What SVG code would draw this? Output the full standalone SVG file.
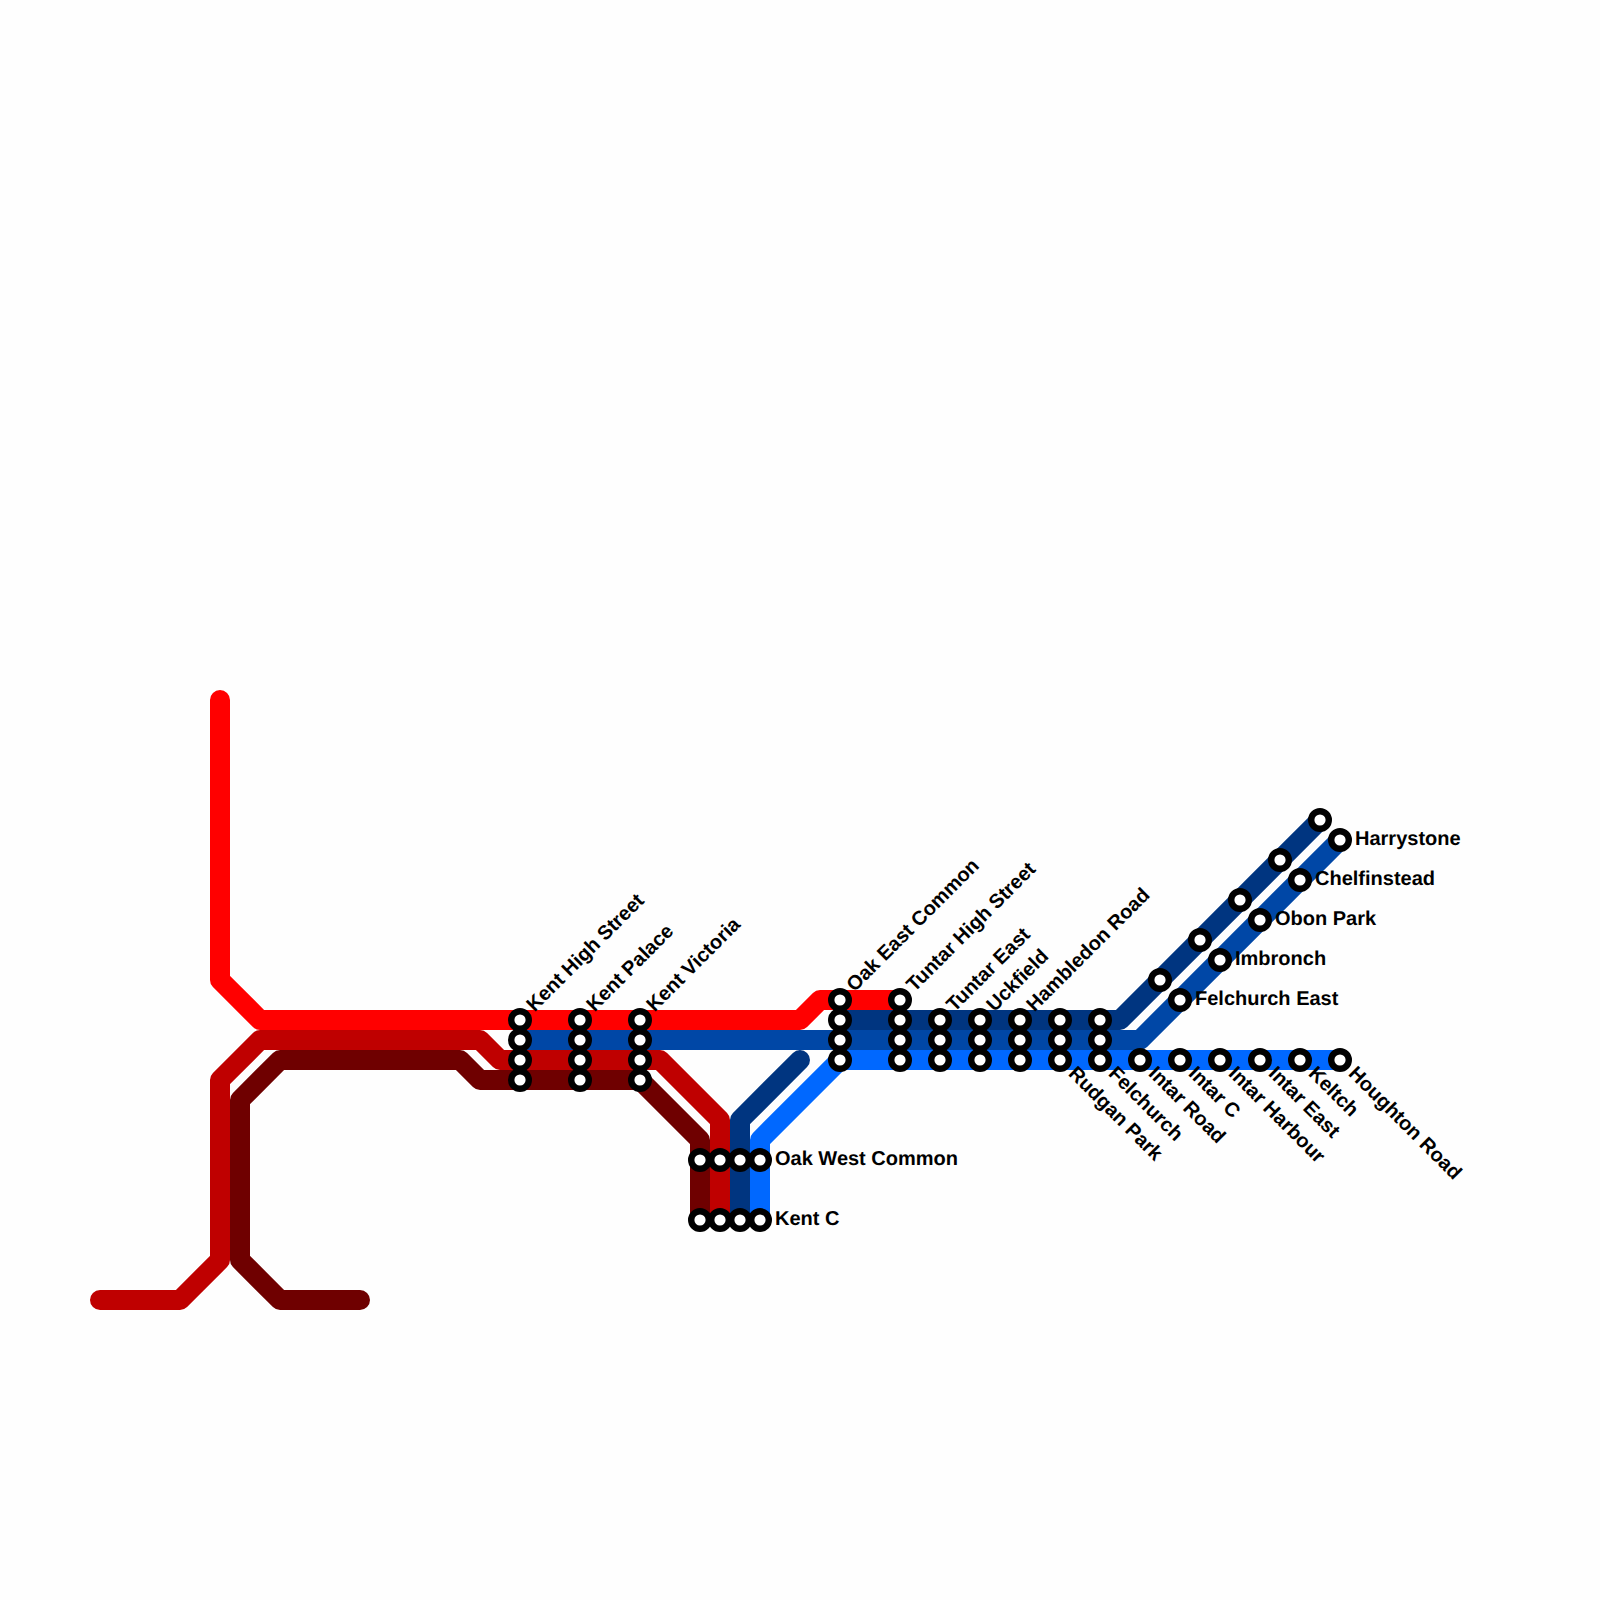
<svg xmlns="http://www.w3.org/2000/svg" width="1600" height="1600" viewBox="0 0 1600 1600">
<style>
.l{fill:none;stroke-width:20;stroke-linecap:round;stroke-linejoin:round}
.s{fill:#fff;stroke:#000;stroke-width:6.4}
text{font-family:"Liberation Sans",Arial,sans-serif;font-weight:bold;font-size:20px;fill:#000;text-rendering:geometricPrecision}
</style>
<rect width="1600" height="1600" fill="#fefefe"/>
<g id="connectors">
<path class="l" stroke="#ff0000" d="M220 700V980L260 1020H800L820 1000H900"/>
<path class="l" stroke="#bf0000" d="M100 1300H180L220 1260V1080L260 1040H480L500 1060H660L720 1120V1220"/>
<path class="l" stroke="#6f0000" d="M360 1300H280L240 1260V1100L280 1060H460L480 1080H640L700 1140V1220"/>
<path class="l" stroke="#003580" d="M800 1060L740 1120V1220"/>
<path class="l" stroke="#003580" d="M840 1020H1120L1320 820"/>
<path class="l" stroke="#0047a6" d="M520 1040H1140L1340 840"/>
<path class="l" stroke="#0068ff" d="M760 1220V1140L840 1060H1340"/>
</g>
<g id="kent-high-street"><circle class="s" cx="520" cy="1020" r="8.8"/><circle class="s" cx="520" cy="1040" r="8.8"/><circle class="s" cx="520" cy="1060" r="8.8"/><circle class="s" cx="520" cy="1080" r="8.8"/><text transform="translate(534.5 1012.5) rotate(-45)">Kent High Street</text></g>
<g id="kent-palace"><circle class="s" cx="580" cy="1020" r="8.8"/><circle class="s" cx="580" cy="1040" r="8.8"/><circle class="s" cx="580" cy="1060" r="8.8"/><circle class="s" cx="580" cy="1080" r="8.8"/><text transform="translate(594.5 1012.5) rotate(-45)">Kent Palace</text></g>
<g id="kent-victoria"><circle class="s" cx="640" cy="1020" r="8.8"/><circle class="s" cx="640" cy="1040" r="8.8"/><circle class="s" cx="640" cy="1060" r="8.8"/><circle class="s" cx="640" cy="1080" r="8.8"/><text transform="translate(654.5 1012.5) rotate(-45)">Kent Victoria</text></g>
<g id="oak-west-common"><circle class="s" cx="700" cy="1160" r="8.8"/><circle class="s" cx="720" cy="1160" r="8.8"/><circle class="s" cx="740" cy="1160" r="8.8"/><circle class="s" cx="760" cy="1160" r="8.8"/><text x="775" y="1165">Oak West Common</text></g>
<g id="kent-c"><circle class="s" cx="700" cy="1220" r="8.8"/><circle class="s" cx="720" cy="1220" r="8.8"/><circle class="s" cx="740" cy="1220" r="8.8"/><circle class="s" cx="760" cy="1220" r="8.8"/><text x="775" y="1225">Kent C</text></g>
<g id="oak-east-common"><circle class="s" cx="840" cy="1000" r="8.8"/><circle class="s" cx="840" cy="1020" r="8.8"/><circle class="s" cx="840" cy="1040" r="8.8"/><circle class="s" cx="840" cy="1060" r="8.8"/><text transform="translate(854.5 992.5) rotate(-45)">Oak East Common</text></g>
<g id="tuntar-high-street"><circle class="s" cx="900" cy="1000" r="8.8"/><circle class="s" cx="900" cy="1020" r="8.8"/><circle class="s" cx="900" cy="1040" r="8.8"/><circle class="s" cx="900" cy="1060" r="8.8"/><text transform="translate(914.5 992.5) rotate(-45)">Tuntar High Street</text></g>
<g id="tuntar-east"><circle class="s" cx="940" cy="1020" r="8.8"/><circle class="s" cx="940" cy="1040" r="8.8"/><circle class="s" cx="940" cy="1060" r="8.8"/><text transform="translate(954.5 1012.5) rotate(-45)">Tuntar East</text></g>
<g id="uckfield"><circle class="s" cx="980" cy="1020" r="8.8"/><circle class="s" cx="980" cy="1040" r="8.8"/><circle class="s" cx="980" cy="1060" r="8.8"/><text transform="translate(994.5 1012.5) rotate(-45)">Uckfield</text></g>
<g id="hambledon-road"><circle class="s" cx="1020" cy="1020" r="8.8"/><circle class="s" cx="1020" cy="1040" r="8.8"/><circle class="s" cx="1020" cy="1060" r="8.8"/><text transform="translate(1034.5 1012.5) rotate(-45)">Hambledon Road</text></g>
<g id="rudgan-park"><circle class="s" cx="1060" cy="1020" r="8.8"/><circle class="s" cx="1060" cy="1040" r="8.8"/><circle class="s" cx="1060" cy="1060" r="8.8"/><text transform="translate(1067.5 1074.5) rotate(45)">Rudgan Park</text></g>
<g id="felchurch"><circle class="s" cx="1100" cy="1020" r="8.8"/><circle class="s" cx="1100" cy="1040" r="8.8"/><circle class="s" cx="1100" cy="1060" r="8.8"/><text transform="translate(1107.5 1074.5) rotate(45)">Felchurch</text></g>
<g id="intar-road"><circle class="s" cx="1140" cy="1060" r="8.8"/><text transform="translate(1147.5 1074.5) rotate(45)">Intar Road</text></g>
<g id="intar-c"><circle class="s" cx="1180" cy="1060" r="8.8"/><text transform="translate(1187.5 1074.5) rotate(45)">Intar C</text></g>
<g id="intar-harbour"><circle class="s" cx="1220" cy="1060" r="8.8"/><text transform="translate(1227.5 1074.5) rotate(45)">Intar Harbour</text></g>
<g id="intar-east"><circle class="s" cx="1260" cy="1060" r="8.8"/><text transform="translate(1267.5 1074.5) rotate(45)">Intar East</text></g>
<g id="keltch"><circle class="s" cx="1300" cy="1060" r="8.8"/><text transform="translate(1307.5 1074.5) rotate(45)">Keltch</text></g>
<g id="houghton-road"><circle class="s" cx="1340" cy="1060" r="8.8"/><text transform="translate(1347.5 1074.5) rotate(45)">Houghton Road</text></g>
<g id="navy-1"><circle class="s" cx="1160" cy="980" r="8.8"/></g>
<g id="navy-2"><circle class="s" cx="1200" cy="940" r="8.8"/></g>
<g id="navy-3"><circle class="s" cx="1240" cy="900" r="8.8"/></g>
<g id="navy-4"><circle class="s" cx="1280" cy="860" r="8.8"/></g>
<g id="navy-5"><circle class="s" cx="1320" cy="820" r="8.8"/></g>
<g id="felchurch-east"><circle class="s" cx="1180" cy="1000" r="8.8"/><text x="1195" y="1005">Felchurch East</text></g>
<g id="imbronch"><circle class="s" cx="1220" cy="960" r="8.8"/><text x="1235" y="965">Imbronch</text></g>
<g id="obon-park"><circle class="s" cx="1260" cy="920" r="8.8"/><text x="1275" y="925">Obon Park</text></g>
<g id="chelfinstead"><circle class="s" cx="1300" cy="880" r="8.8"/><text x="1315" y="885">Chelfinstead</text></g>
<g id="harrystone"><circle class="s" cx="1340" cy="840" r="8.8"/><text x="1355" y="845">Harrystone</text></g>
</svg>
